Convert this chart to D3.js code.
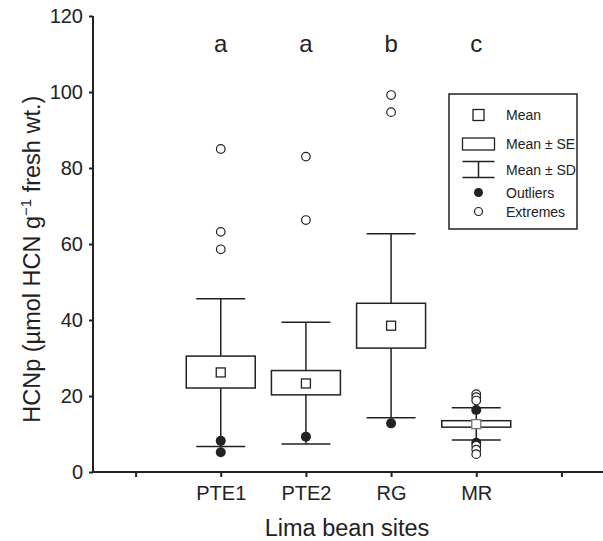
<!DOCTYPE html>
<html>
<head>
<meta charset="utf-8">
<script src="https://cdn.jsdelivr.net/npm/d3@7"></script>
<style>
  body { margin: 0; background: #fff; }
  svg { font-family: "Liberation Sans", Arial, sans-serif; }
  .axis path, .axis line { stroke: #222; stroke-width: 2; }
  .axis text { fill: #222; font-size: 20px; }
</style>
</head>
<body>
<div id="chart"></div>
<script>
// site order and the x position (0..5 on the axis)
var sites = ["PTE1", "PTE2", "RG", "MR"];
var sitePos = [1, 2, 3, 4];
var letters = ["a", "a", "b", "c"];

// (µmol HCN g-1 fresh wt.)
var means = [26.2, 23.3, 38.5, 12.6];
var seLow = [22.1, 20.3, 32.6, 11.8];
var seHigh = [30.5, 26.7, 44.4, 13.5];
var sdLow = [6.7, 7.4, 14.3, 8.4];
var sdHigh = [45.6, 39.4, 62.7, 16.9];
var outliers = [[8.2, 5.2], [9.3], [12.8], [16.3, 7.7]];
var extremes = [[85.0, 63.2, 58.6], [83.0, 66.3], [99.2, 94.7], [20.5, 19.7, 18.8, 6.9, 5.9, 4.7]];

var yTicks = [0, 20, 40, 60, 80, 100, 120];
var xTicks = [0, 1, 2, 3, 4, 5];

var legendItems = ["Mean", "Mean \u00b1 SE", "Mean \u00b1 SD", "Outliers", "Extremes"];

var width = 603, height = 541;
var ink = "#222";

var x = d3.scaleLinear().domain([-0.5, 5.5]).range([93, 604]);
var y = d3.scaleLinear().domain([0, 120]).range([472, 16]);

var boxW = 0.81, capW = 0.575;

var svg = d3.select("#chart").append("svg")
  .attr("width", width)
  .attr("height", height);

// axes
var xAxis = d3.axisBottom(x)
  .tickValues(xTicks)
  .tickSize(5)
  .tickPadding(9)
  .tickFormat(function(d) { return d >= 1 && d <= 4 ? sites[d - 1] : ""; });

svg.append("g")
  .attr("class", "x axis")
  .attr("transform", "translate(0," + y(0) + ")")
  .call(xAxis)
  .call(g => g.select(".domain").attr("d", "M" + x(-0.5) + ",0H" + x(5.5)));

svg.append("g")
  .attr("class", "y axis")
  .attr("transform", "translate(" + x(-0.5) + ",0)")
  .call(d3.axisLeft(y).tickValues(yTicks).tickSize(4).tickPadding(6))
  .call(g => g.select(".domain").attr("d", "M0," + y(120) + "V" + y(0)));

// axis titles
svg.append("text")
  .attr("x", 347)
  .attr("y", 536)
  .attr("text-anchor", "middle")
  .attr("font-size", 23.5)
  .attr("fill", ink)
  .text("Lima bean sites");

var yTitle = svg.append("text")
  .attr("transform", "translate(40," + y(56) + ") rotate(-90)")
  .attr("text-anchor", "middle")
  .attr("font-size", 23.5)
  .attr("fill", ink);
yTitle.append("tspan").text("HCNp (\u00b5mol HCN g");
yTitle.append("tspan").attr("dy", -9).attr("font-size", 15).text("\u22121");
yTitle.append("tspan").attr("dy", 9).text(" fresh wt.)");

// boxes
var groups = svg.append("g").selectAll("g")
  .data(sites)
  .enter()
  .append("g");

groups.each(function(s, i) {
  var g = d3.select(this);
  var cx = x(sitePos[i]);

  // whiskers (mean ± SD)
  g.append("line")
    .attr("x1", cx).attr("x2", cx)
    .attr("y1", y(sdHigh[i])).attr("y2", y(sdLow[i]))
    .attr("stroke", ink).attr("stroke-width", 1.5);
  [sdHigh[i], sdLow[i]].forEach(function(v) {
    g.append("line")
      .attr("x1", x(sitePos[i] - capW / 2)).attr("x2", x(sitePos[i] + capW / 2))
      .attr("y1", y(v)).attr("y2", y(v))
      .attr("stroke", ink).attr("stroke-width", 1.5);
  });

  // box (mean ± SE)
  g.append("rect")
    .attr("x", x(sitePos[i] - boxW / 2))
    .attr("width", x(sitePos[i] + boxW / 2) - x(sitePos[i] - boxW / 2))
    .attr("y", y(seHigh[i]))
    .attr("height", y(seLow[i]) - y(seHigh[i]))
    .attr("fill", "#fff").attr("stroke", ink).attr("stroke-width", 1.5);

  // mean
  g.append("rect")
    .attr("x", cx - 4.5).attr("y", y(means[i]) - 4.5)
    .attr("width", 9).attr("height", 9)
    .attr("fill", "#fff").attr("stroke", i == 3 ? "#777" : ink).attr("stroke-width", 1.3);

  g.selectAll(".out")
    .data(outliers[i])
    .enter()
    .append("circle")
    .attr("class", "out")
    .attr("cx", cx).attr("cy", d => y(d)).attr("r", 5)
    .attr("fill", ink);

  g.selectAll(".ext")
    .data(extremes[i])
    .enter()
    .append("circle")
    .attr("class", "ext")
    .attr("cx", cx).attr("cy", d => y(d)).attr("r", 4.3)
    .attr("fill", "#fff").attr("stroke", ink).attr("stroke-width", 1.2);
});

// significance letters
svg.append("g").selectAll("text")
  .data(letters)
  .enter()
  .append("text")
  .attr("x", (d, i) => x(sitePos[i]))
  .attr("y", y(110.5))
  .attr("text-anchor", "middle")
  .attr("font-size", 24)
  .attr("fill", ink)
  .text(d => d);

// legend
var legend = svg.append("g").attr("transform", "translate(449,94)");
legend.append("rect")
  .attr("width", 128).attr("height", 135)
  .attr("fill", "#fff").attr("stroke", ink).attr("stroke-width", 1.5);

var rowY = [21, 50, 75.5, 98.5, 117.5];
var symX = 29.5;

legend.append("rect")
  .attr("x", symX - 5.5).attr("y", rowY[0] - 5.5)
  .attr("width", 11).attr("height", 11)
  .attr("fill", "#fff").attr("stroke", ink).attr("stroke-width", 1.3);
legend.append("rect")
  .attr("x", symX - 16).attr("y", rowY[1] - 6)
  .attr("width", 32).attr("height", 12)
  .attr("fill", "#fff").attr("stroke", ink).attr("stroke-width", 1.3);
[-8, 8].forEach(function(o) {
  legend.append("line")
    .attr("x1", symX - 16).attr("x2", symX + 16)
    .attr("y1", rowY[2] + o).attr("y2", rowY[2] + o)
    .attr("stroke", ink).attr("stroke-width", 1.5);
});
legend.append("line")
  .attr("x1", symX).attr("x2", symX)
  .attr("y1", rowY[2] - 8).attr("y2", rowY[2] + 8)
  .attr("stroke", ink).attr("stroke-width", 1.5);
legend.append("circle")
  .attr("cx", symX).attr("cy", rowY[3]).attr("r", 4.5).attr("fill", ink);
legend.append("circle")
  .attr("cx", symX).attr("cy", rowY[4]).attr("r", 4)
  .attr("fill", "#fff").attr("stroke", ink).attr("stroke-width", 1.2);

legend.selectAll(".lab")
  .data(legendItems)
  .enter()
  .append("text")
  .attr("class", "lab")
  .attr("x", 57)
  .attr("y", (d, i) => rowY[i] + 5)
  .attr("font-size", 14)
  .attr("fill", ink)
  .text(d => d);
</script>
</body>
</html>
